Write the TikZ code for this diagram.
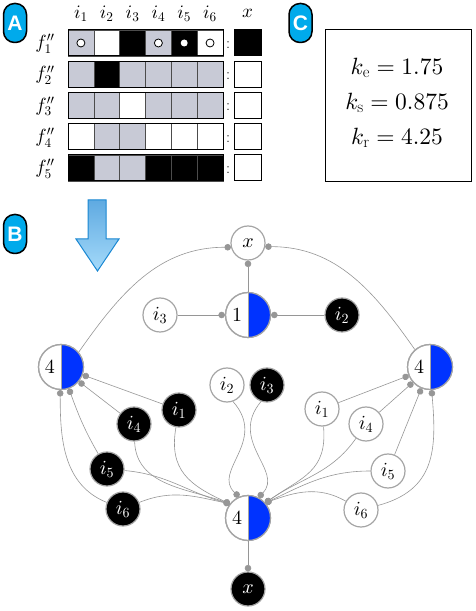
\documentclass[tikz,border=0pt]{standalone}
\usepackage{fontspec}
\DeclareFontShape{OML}{cmm}{m}{it}{<->cmmi10}{}
\DeclareFontShape{OMS}{cmsy}{m}{n}{<->cmsy10}{}
\DeclareFontShape{OT1}{cmr}{m}{n}{<->cmr10}{}
\newfontfamily\badgefont{Liberation Sans}
\usetikzlibrary{arrows.meta}
\definecolor{cg}{RGB}{200,202,214}
\definecolor{ngray}{RGB}{165,165,165}
\definecolor{lgray}{RGB}{150,150,150}
\definecolor{hblue}{RGB}{0,51,255}
\definecolor{badge}{RGB}{0,170,235}
\definecolor{arrtop}{RGB}{95,170,225}
\definecolor{arrbot}{RGB}{165,218,250}
\definecolor{arrline}{RGB}{25,135,210}
\tikzset{
 big/.style={font=\fontsize{20}{22}\selectfont},
 hdr/.style={font=\fontsize{19}{21}\selectfont},
 wnode/.style={circle, draw=ngray, line width=1.2pt, fill=white, minimum size=34pt, inner sep=0pt, big},
 bnode/.style={wnode, fill=black, text=white},
 hnode/.style={circle, draw=ngray, line width=1.2pt, fill=white, minimum size=45pt, inner sep=0pt},
 conn/.style={draw=lgray, line width=0.6pt, -{Circle[length=6.5pt]}},
 badgebox/.style={draw=black, line width=1.5pt, fill=badge, rounded corners=11pt, minimum width=23pt, minimum height=39pt, inner sep=0pt, text=white, font=\badgefont\bfseries\fontsize{21}{21}\selectfont},
 kval/.style={font=\fontsize{23.5}{26}\selectfont},
}
\newcommand\halfnode[3]{%
 \node[hnode] (#1) at (#2) {};
 \fill[hblue] ([yshift=-22.5pt]#1.center) arc[start angle=-90, end angle=90, radius=22.5pt] -- cycle;
 \draw[ngray, line width=0.8pt] ([yshift=-22.5pt]#1.center) -- ([yshift=22.5pt]#1.center);
 \draw[ngray, line width=1.2pt] (#1.center) circle[radius=22.5pt];
 \node[big] (#1t) at ([xshift=-11pt]#1.center) {$#3$};
}
\newcommand\tabrow[3]{%
 \pgfmathsetmacro\yt{581-31.2*#1}
 \foreach \c [count=\j from 0] in {#2} {
   \filldraw[fill=\c, draw=black!70, line width=0.5pt] ({68+25.83*\j},\yt) rectangle ++(25.83,-26);
 }
 \draw[black, line width=1pt] (68,\yt) rectangle ++(155,-26);
 \filldraw[fill=#3, draw=black, line width=1pt] (234,\yt) rectangle ++(27,-26);
}
\begin{document}
\begin{tikzpicture}[x=1pt,y=1pt]
\useasboundingbox (0,0) rectangle (475,611);
% badges
\node[badgebox] (bA) at (15,588) {A};
\node[badgebox] (bC) at (300.5,588) {C};
\node[badgebox] (bB) at (15,377) {B};
% table
\tabrow{0}{cg,white,black,cg,black,white}{black}
\tabrow{1}{cg,black,cg,cg,cg,cg}{white}
\tabrow{2}{cg,cg,white,cg,cg,cg}{white}
\tabrow{3}{white,cg,cg,white,white,white}{white}
\tabrow{4}{black,cg,cg,black,black,black}{white}
\foreach \k in {0,3,5} {\draw[black, fill=white, line width=0.8pt] ({80.9+25.83*\k},568) circle[radius=4pt];}
\fill[white] (184.2,568) circle[radius=3.5pt];
\foreach \k [count=\n] in {0,...,5} {\node[hdr] (h\n) at ({80.9+25.83*\k},597) {$i_{\n}$};}
\node[hdr] (hx) at (247.5,598) {$x$};
\foreach \k [count=\n] in {0,...,4} {
  \node[hdr] (f\n) at (45,{567-31.2*\k}) {$f''_{\n}$};
  \node[font=\fontsize{16}{16}\selectfont] (col\n) at (228,{566-31.2*\k}) {:};
}
% box C
\node[draw=black, line width=1pt, minimum width=146pt, minimum height=152pt, inner sep=0pt] (boxC) at (398.5,505.5) {};
\node[kval] (ke) at (397,543) {$k_{\mathrm{e}} = 1.75$};
\node[kval] (ks) at (397,508) {$k_{\mathrm{s}} = 0.875$};
\node[kval] (kr) at (397,473) {$k_{\mathrm{r}} = 4.25$};
% arrow
\shadedraw[top color=arrtop, bottom color=arrbot, draw=arrline, line width=1pt, line join=miter]
  (88,411) -- (106,411) -- (106,372) -- (119,372) -- (97.5,340) -- (76,372) -- (88,372) -- cycle;
% graph nodes
\node[wnode] (xT) at (248,368) {$x$};
\halfnode{n1}{248,296}{1}
\halfnode{L}{61,244}{4}
\halfnode{R}{430,244}{4}
\halfnode{B4}{248,93}{4}
\node[bnode] (xB) at (248,22) {$x$};
\node[wnode] (wi3a) at (160,296) {$i_3$};
\node[bnode] (bi2a) at (342,296) {$i_2$};
\node[bnode] (bi1) at (179,201) {$i_1$};
\node[bnode] (bi4) at (134,187) {$i_4$};
\node[bnode] (bi5) at (107,142) {$i_5$};
\node[bnode] (bi6) at (123,102) {$i_6$};
\node[wnode] (wi2) at (227,226) {$i_2$};
\node[bnode] (bi3) at (267,226) {$i_3$};
\node[wnode] (wi1) at (322,202) {$i_1$};
\node[wnode] (wi4) at (366,187) {$i_4$};
\node[wnode] (wi5) at (388,140) {$i_5$};
\node[wnode] (wi6) at (361,101) {$i_6$};
% connectors
\draw[conn] (n1) -- (xT);
\draw[conn] (L.40) to[out=55,in=180] (xT.-166);
\draw[conn] (R.131) to[out=125,in=0] (xT.-12);
\draw[conn] (wi3a) -- (n1);
\draw[conn] (bi2a) -- (n1);
\draw[conn] (B4) -- (xB);
% left 4
\draw[conn] (bi1) -- (L.-20);
\draw[conn] (bi4) -- (L.-39);
\draw[conn] (bi5) to[out=120,in=-70] (L.-70);
\draw[conn] (bi6) to[out=158,in=-90] (L.-92);
% right 4
\draw[conn] (wi1) -- (R.-158);
\draw[conn] (wi4) -- (R.-138);
\draw[conn] (wi5) -- (R.-112);
\draw[conn] (wi6) to[out=15,in=-85,looseness=1.2] (R.-86);
% bottom 4
\draw[conn] (bi1) to[out=-100,in=155,looseness=1.2] (B4.142);
\draw[conn] (bi4) to[out=-88,in=160] (B4.142);
\draw[conn] (bi5) to[out=-5,in=165] (B4.142);
\draw[conn] (bi6) to[out=22,in=168] (B4.142);
\draw[conn] (wi1) to[out=-85,in=35,looseness=1.2] (B4.41);
\draw[conn] (wi4) to[out=-125,in=35] (B4.41);
\draw[conn] (wi5) to[out=180,in=25] (B4.41);
\draw[conn] (wi6) to[out=150,in=20] (B4.41);
\draw[conn] (wi2.-70) .. controls (268,170) and (212,140) .. (B4.113);
\draw[conn] (bi3.-110) .. controls (228,170) and (284,140) .. (B4.63);
\end{tikzpicture}
\end{document}
